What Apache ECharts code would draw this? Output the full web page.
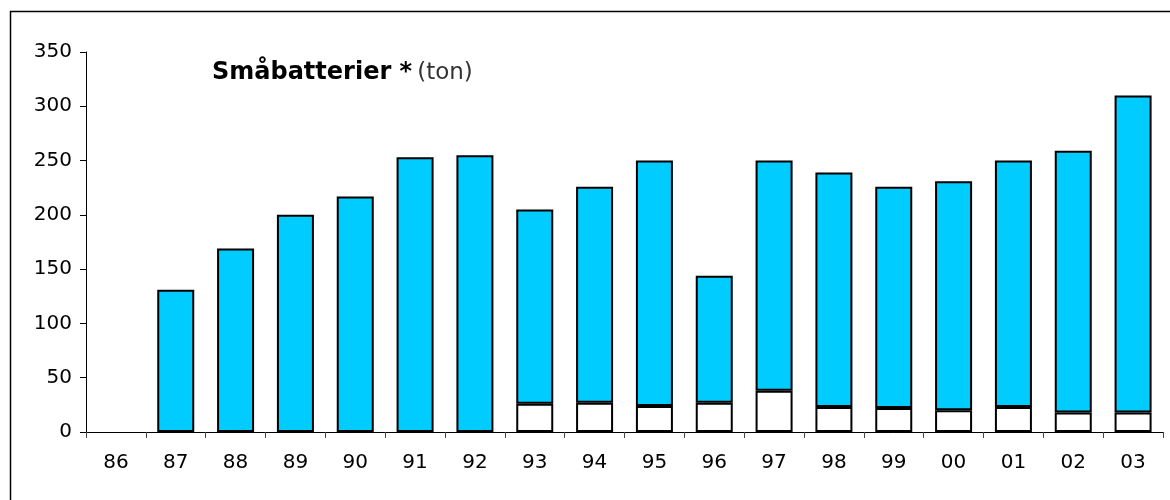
<!DOCTYPE html>
<html>
<head>
<meta charset="utf-8">
<script src="https://cdn.jsdelivr.net/npm/echarts@6/dist/echarts.min.js"></script>
<style>
html,body{margin:0;padding:0;background:#fff;}
#c{width:1170px;height:500px;}
</style>
</head>
<body>
<div id="c"></div>
<script>
const categories = ['86','87','88','89','90','91','92','93','94','95','96','97','98','99','00','01','02','03'];
// lower (white) segment, tons
const lowerValues = [null,null,null,null,null,null,null,26,27,24,27,38,23,22,20,23,18,18];
// upper (blue) segment, tons
const upperValues = [null,131,169,200,217,253,255,179,199,226,117,212,216,204,211,227,241,292];
const yTicks = {min:0, max:350, interval:50};
const titleMain = 'Småbatterier *';
const titleUnit = '(ton)';

const chart = echarts.init(document.getElementById('c'), null, {renderer:'canvas'});
chart.setOption({
  animation:false,
  backgroundColor:'#fff',
  graphic:[{
    type:'rect', shape:{x:10.5,y:11.5,width:1200,height:600},
    style:{fill:'none',stroke:'#000',lineWidth:1.5}, silent:true, z:-1
  }],
  title:{
    left:207, top:56,
    text:'{a|'+titleMain+'} {b|'+titleUnit+'}',
    textStyle:{
      fontWeight:'normal',
      rich:{
        a:{fontFamily:'DejaVu Sans',fontWeight:'bold',fontSize:24,color:'#000'},
        b:{fontFamily:'DejaVu Sans',fontWeight:'normal',fontSize:23,color:'#333'}
      }
    }
  },
  grid:{left:86,top:52,right:7,bottom:68,containLabel:false},
  xAxis:{
    type:'category', data:categories,
    axisLine:{lineStyle:{color:'#000',width:1}},
    axisTick:{show:true,length:6,inside:false,lineStyle:{color:'#444'}},
    axisLabel:{fontFamily:'DejaVu Sans',fontSize:20,color:'#000',margin:21}
  },
  yAxis:{
    type:'value', min:yTicks.min, max:yTicks.max, interval:yTicks.interval,
    splitLine:{show:false},
    axisLine:{show:true,lineStyle:{color:'#000',width:1}},
    axisTick:{show:true,length:6,lineStyle:{color:'#000'}},
    axisLabel:{fontFamily:'DejaVu Sans',fontSize:20,color:'#000',margin:14}
  },
  series:[
    {type:'bar',stack:'s',data:lowerValues,barWidth:37,
     itemStyle:{color:'#fff',borderColor:'#000',borderWidth:2}},
    {type:'bar',stack:'s',data:upperValues,barWidth:37,
     itemStyle:{color:'#00CCFF',borderColor:'#000',borderWidth:2}}
  ]
});
</script>
</body>
</html>
